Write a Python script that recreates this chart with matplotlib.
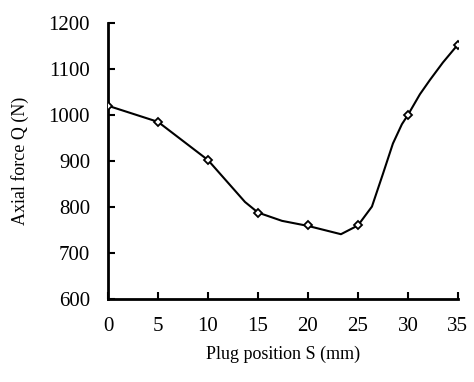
import matplotlib.pyplot as plt

# measured points (markers)
pos = [0, 5, 10, 15, 20, 25, 30, 35]
force = [1020, 985, 902, 788, 760, 760, 1000, 1153]

# curve as drawn through the markers
curve_pos = [0, 5, 10, 13.7, 15, 17.4, 20, 23.3, 25, 26.4, 27.5, 28.5, 29.4, 30, 31.2, 32.2, 33.5, 35]
curve_force = [1020, 985, 902, 811, 788, 770, 759, 741, 760, 801, 872, 938, 980, 1000, 1045, 1076, 1114, 1153]

plt.rcParams['font.family'] = ['Liberation Serif', 'DejaVu Serif']
plt.rcParams['font.size'] = 15

fig = plt.figure(figsize=(4.74, 3.82), dpi=100)
ax = fig.add_axes([0.228, 0.217, 0.738, 0.723])
ax.plot(curve_pos, curve_force, color='black', lw=1.5, zorder=2)
ax.plot(pos, force, ls='none', marker='D', ms=4.5, mfc='white', mec='black', mew=1.3, zorder=3)

ax.set_xlim(0, 35); ax.set_ylim(600, 1200)
ax.set_xticks(range(0, 36, 5)); ax.set_yticks(range(600, 1201, 100))
for side in ['top', 'right']:
    ax.spines[side].set_visible(False)
for side in ['left', 'bottom']:
    ax.spines[side].set_linewidth(2)
ax.tick_params(direction='in', length=5, width=1.5, pad=13)
ax.set_xlabel('Plug position S (mm)', fontsize=13, labelpad=7)
ax.set_ylabel('Axial force Q (N)', fontsize=13, labelpad=14)
fig.savefig('out.png', dpi=100)
